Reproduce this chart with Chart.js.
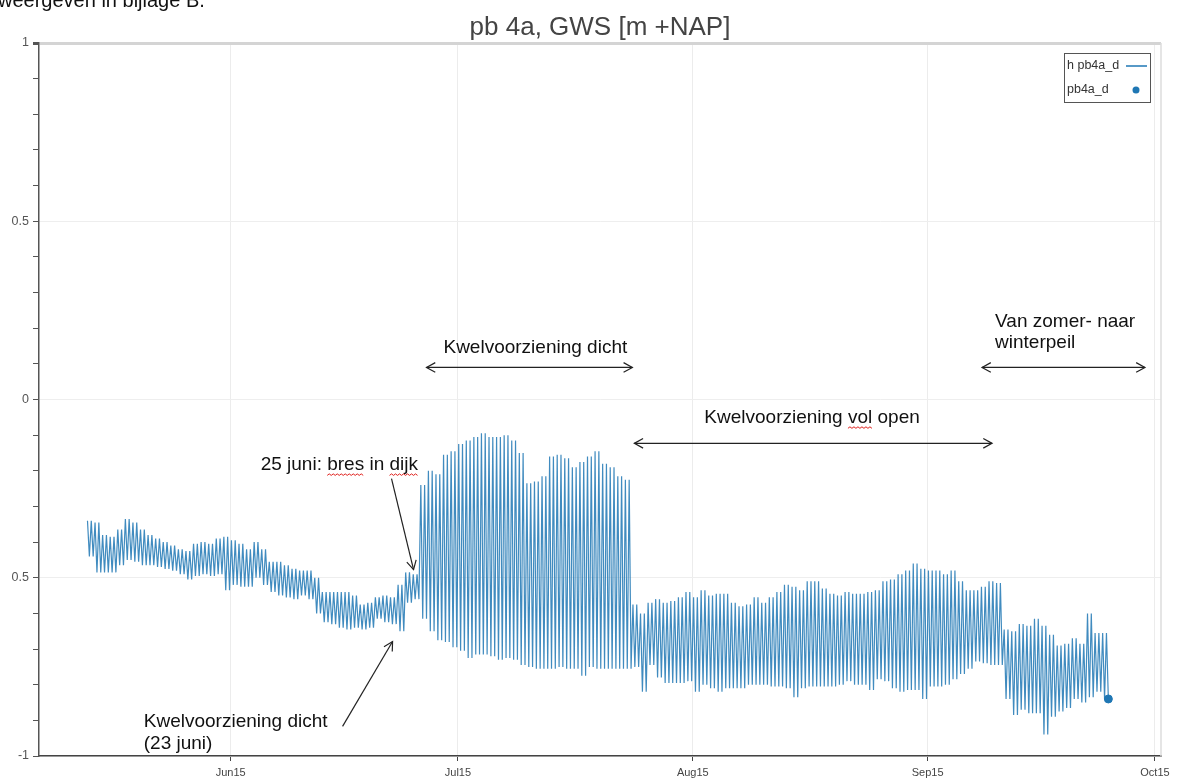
<!DOCTYPE html>
<html>
<head>
<meta charset="utf-8">
<script src="https://cdn.jsdelivr.net/npm/chart.js@4.4.1/dist/chart.umd.min.js"></script>
<style>
  html, body { margin: 0; padding: 0; background: #fff; }
  #wrap { position: relative; width: 1178px; height: 780px; }
</style>
</head>
<body>
<div id="wrap"><canvas id="chart"></canvas></div>
<script>
// days counted from 1 June 2015; one high and one low per day, two tides a day
const START_DAY = -18.9;
const HIGH = [
  -0.34, -0.345, -0.38, -0.385, -0.365, -0.335, -0.345, -0.365, -0.38, -0.39,
  -0.40, -0.41, -0.42, -0.425, -0.405, -0.40, -0.405, -0.39, -0.385, -0.395,
  -0.405, -0.42, -0.40, -0.42, -0.455, -0.455, -0.465, -0.475, -0.48, -0.48,
  -0.50, -0.54, -0.54, -0.54, -0.54, -0.55, -0.575, -0.57, -0.555, -0.55,
  -0.555, -0.52, -0.485, -0.49, -0.24, -0.20, -0.21, -0.155, -0.145, -0.125,
  -0.115, -0.105, -0.095, -0.105, -0.105, -0.10, -0.115, -0.15, -0.235, -0.23,
  -0.215, -0.16, -0.155, -0.165, -0.19, -0.175, -0.16, -0.145, -0.18, -0.19,
  -0.215, -0.225, -0.575, -0.60, -0.57, -0.56, -0.57, -0.565, -0.555, -0.54,
  -0.555, -0.535, -0.55, -0.545, -0.545, -0.57, -0.58, -0.575, -0.555, -0.57,
  -0.555, -0.54, -0.52, -0.525, -0.535, -0.51, -0.51, -0.53, -0.545, -0.55,
  -0.54, -0.545, -0.545, -0.54, -0.535, -0.51, -0.505, -0.49, -0.48, -0.46,
  -0.475, -0.48, -0.48, -0.49, -0.48, -0.51, -0.535, -0.535, -0.525, -0.51,
  -0.515, -0.645, -0.65, -0.63, -0.635, -0.615, -0.635, -0.66, -0.69, -0.685,
  -0.67, -0.685, -0.60, -0.655, -0.655
];
const LOW = [
  -0.44, -0.485, -0.485, -0.485, -0.465, -0.45, -0.455, -0.465, -0.465, -0.47,
  -0.475, -0.48, -0.49, -0.505, -0.495, -0.49, -0.495, -0.49, -0.535, -0.52,
  -0.525, -0.525, -0.50, -0.52, -0.54, -0.55, -0.555, -0.56, -0.55, -0.56,
  -0.60, -0.625, -0.63, -0.64, -0.645, -0.64, -0.645, -0.64, -0.615, -0.625,
  -0.63, -0.65, -0.57, -0.56, -0.615, -0.65, -0.675, -0.68, -0.695, -0.705,
  -0.725, -0.715, -0.715, -0.72, -0.73, -0.725, -0.73, -0.745, -0.75, -0.755,
  -0.755, -0.755, -0.75, -0.755, -0.755, -0.775, -0.75, -0.755, -0.755, -0.755,
  -0.755, -0.755, -0.75, -0.82, -0.745, -0.78, -0.795, -0.795, -0.795, -0.79,
  -0.82, -0.80, -0.81, -0.82, -0.81, -0.81, -0.81, -0.80, -0.80, -0.80,
  -0.805, -0.805, -0.81, -0.835, -0.81, -0.805, -0.805, -0.805, -0.805, -0.80,
  -0.79, -0.80, -0.80, -0.815, -0.785, -0.79, -0.81, -0.82, -0.815, -0.815,
  -0.84, -0.805, -0.805, -0.80, -0.785, -0.77, -0.755, -0.735, -0.74, -0.745,
  -0.745, -0.84, -0.885, -0.87, -0.88, -0.88, -0.94, -0.89, -0.875, -0.865,
  -0.84, -0.85, -0.835, -0.82, -0.84
];
const LAST_DAY = 115.85;
const LAST_VALUE = -0.84;

const MONTH_TICKS = [0, 30, 61, 92, 122];
const MONTH_LABELS = ['Jun15', 'Jul15', 'Aug15', 'Sep15', 'Oct15'];
const Y_MAJOR = [1, 0.5, 0, -0.5, -1];
const Y_LABELS = ['1', '0.5', '0', '0.5', '-1'];

const BLUE = '#1f77b4';
const FONT = "'Liberation Sans', Arial, sans-serif";

const series = [];
HIGH.forEach((h, i) => {
  const d = START_DAY + i;
  series.push({ x: d, y: h }, { x: d + 0.25, y: LOW[i] }, { x: d + 0.5, y: h }, { x: d + 0.75, y: LOW[i] });
});

function isMajor(v) {
  return Y_MAJOR.some((m) => Math.abs(m - v) < 1e-6);
}

function arrowHead(ctx, x0, y0, x1, y1) {
  const a = Math.atan2(y1 - y0, x1 - x0);
  const len = 10, spread = 0.5;
  ctx.beginPath();
  ctx.moveTo(x1 - len * Math.cos(a - spread), y1 - len * Math.sin(a - spread));
  ctx.lineTo(x1, y1);
  ctx.lineTo(x1 - len * Math.cos(a + spread), y1 - len * Math.sin(a + spread));
  ctx.stroke();
}

function arrow(ctx, x0, y0, x1, y1, both) {
  ctx.beginPath();
  ctx.moveTo(x0, y0);
  ctx.lineTo(x1, y1);
  ctx.stroke();
  arrowHead(ctx, x0, y0, x1, y1);
  if (both) arrowHead(ctx, x1, y1, x0, y0);
}

function squiggle(ctx, x0, x1, y) {
  ctx.save();
  ctx.strokeStyle = '#e0201c';
  ctx.lineWidth = 1;
  ctx.beginPath();
  let up = true;
  ctx.moveTo(x0, y);
  for (let x = x0 + 2; x <= x1; x += 2) {
    ctx.lineTo(x, up ? y - 1.5 : y);
    up = !up;
  }
  ctx.stroke();
  ctx.restore();
}

// text with spell-check underline under the given words
function note(ctx, text, x, y, marked) {
  ctx.fillText(text, x, y);
  (marked || []).forEach((w) => {
    const at = text.indexOf(w);
    const a = x + ctx.measureText(text.slice(0, at)).width;
    const b = a + ctx.measureText(w).width;
    squiggle(ctx, a, b, y + 11);
  });
}

const decor = {
  id: 'decor',
  beforeDraw(chart) {
    const ctx = chart.ctx;
    ctx.save();
    ctx.fillStyle = '#fff';
    ctx.fillRect(0, 0, chart.width, chart.height);
    ctx.restore();
  },
  afterDraw(chart) {
    const ctx = chart.ctx;
    const a = chart.chartArea;
    const xs = chart.scales.x, ys = chart.scales.y;
    const px = (d) => xs.getPixelForValue(d);
    const py = (v) => ys.getPixelForValue(v);
    ctx.save();

    // frame on the right
    ctx.strokeStyle = '#dddddd';
    ctx.lineWidth = 1.5;
    ctx.beginPath();
    ctx.moveTo(a.right, a.top);
    ctx.lineTo(a.right, a.bottom);
    ctx.stroke();

    // cut-off line of document text
    ctx.fillStyle = '#111';
    ctx.font = '20px ' + FONT;
    ctx.textBaseline = 'alphabetic';
    ctx.textAlign = 'left';
    ctx.fillText('weergeven in bijlage B.', -2, 7);

    // title
    ctx.fillStyle = '#444';
    ctx.font = '26px ' + FONT;
    ctx.textAlign = 'center';
    ctx.textBaseline = 'middle';
    ctx.fillText('pb 4a, GWS [m +NAP]', (a.left + a.right) / 2, 28);

    // legend
    const lx = a.right - 97, ly = a.top + 10, lw = 86, lh = 49;
    ctx.fillStyle = '#fff';
    ctx.fillRect(lx, ly, lw, lh);
    ctx.strokeStyle = '#555';
    ctx.lineWidth = 1;
    ctx.strokeRect(lx + 0.5, ly + 0.5, lw, lh);
    ctx.fillStyle = '#333';
    ctx.font = '12.5px ' + FONT;
    ctx.textAlign = 'left';
    ctx.fillText('h pb4a_d', lx + 3, ly + 13);
    ctx.fillText('pb4a_d', lx + 3, ly + 37);
    ctx.strokeStyle = BLUE;
    ctx.lineWidth = 1.5;
    ctx.beginPath();
    ctx.moveTo(lx + 62, ly + 13);
    ctx.lineTo(lx + 83, ly + 13);
    ctx.stroke();
    ctx.fillStyle = BLUE;
    ctx.beginPath();
    ctx.arc(lx + 72, ly + 37, 3.5, 0, Math.PI * 2);
    ctx.fill();

    // annotations
    ctx.fillStyle = '#111';
    ctx.strokeStyle = '#222';
    ctx.lineWidth = 1.2;
    ctx.font = '19px ' + FONT;
    ctx.textAlign = 'left';
    ctx.textBaseline = 'middle';

    note(ctx, 'Kwelvoorziening dicht', px(28.09), py(0.146));
    arrow(ctx, px(25.85), py(0.09), px(53.02), py(0.09), true);

    note(ctx, 'Van zomer- naar', px(100.9), py(0.219));
    note(ctx, 'winterpeil', px(100.9), py(0.16));
    arrow(ctx, px(99.18), py(0.09), px(120.68), py(0.09), true);

    note(ctx, 'Kwelvoorziening vol open', px(62.52), py(-0.05), ['vol']);
    arrow(ctx, px(53.28), py(-0.123), px(100.5), py(-0.123), true);

    note(ctx, '25 juni: bres in dijk', px(3.96), py(-0.182), ['bres', 'dijk']);
    arrow(ctx, px(21.23), py(-0.222), px(24.14), py(-0.477), false);

    note(ctx, 'Kwelvoorziening dicht', px(-11.47), py(-0.903));
    note(ctx, '(23 juni)', px(-11.47), py(-0.965));
    arrow(ctx, px(14.77), py(-0.917), px(21.37), py(-0.679), false);

    ctx.restore();
  }
};

new Chart(document.getElementById('chart'), {
  type: 'line',
  data: {
    datasets: [
      {
        label: 'h pb4a_d',
        data: series,
        borderColor: 'rgba(31, 119, 180, 0.85)',
        borderWidth: 1.2,
        pointRadius: 0,
        tension: 0
      },
      {
        type: 'scatter',
        label: 'pb4a_d',
        data: [{ x: LAST_DAY, y: LAST_VALUE }],
        backgroundColor: BLUE,
        borderColor: BLUE,
        pointRadius: 4
      }
    ]
  },
  options: {
    responsive: true,
    maintainAspectRatio: false,
    animation: false,
    layout: { padding: { top: 43, right: 17, left: 0, bottom: 0 } },
    plugins: {
      legend: { display: false },
      tooltip: { enabled: false },
      title: { display: false }
    },
    scales: {
      x: {
        type: 'linear',
        min: -25.3,
        max: 122.8,
        afterBuildTicks: (s) => { s.ticks = MONTH_TICKS.map((v) => ({ value: v })); },
        afterFit: (s) => { s.height = 24; },
        ticks: {
          autoSkip: false,
          maxRotation: 0,
          padding: 5,
          color: '#444',
          font: { size: 11, family: FONT },
          callback: (v) => MONTH_LABELS[MONTH_TICKS.indexOf(v)]
        },
        grid: { color: '#ececec', tickColor: '#444', tickLength: 5 },
        border: { color: '#444', width: 1.5 }
      },
      y: {
        min: -1,
        max: 1,
        afterFit: (s) => { s.width = 39; },
        ticks: {
          stepSize: 0.1,
          autoSkip: false,
          padding: 4,
          color: '#555',
          font: { size: 12.5, family: FONT },
          callback: (v) => {
            const k = Y_MAJOR.findIndex((m) => Math.abs(m - v) < 1e-6);
            return k < 0 ? '' : Y_LABELS[k];
          }
        },
        grid: {
          color: (c) => (c.tick && Math.abs(c.tick.value - 1) < 1e-6 ? '#d4d4d4' : (c.tick && isMajor(c.tick.value) ? '#eeeeee' : 'rgba(0,0,0,0)')),
          lineWidth: (c) => (c.tick && Math.abs(c.tick.value - 1) < 1e-6 ? 3 : 1),
          tickColor: '#555',
          tickLength: 6
        },
        border: { color: '#555', width: 1.5 }
      }
    }
  },
  plugins: [decor]
});
</script>
</body>
</html>
